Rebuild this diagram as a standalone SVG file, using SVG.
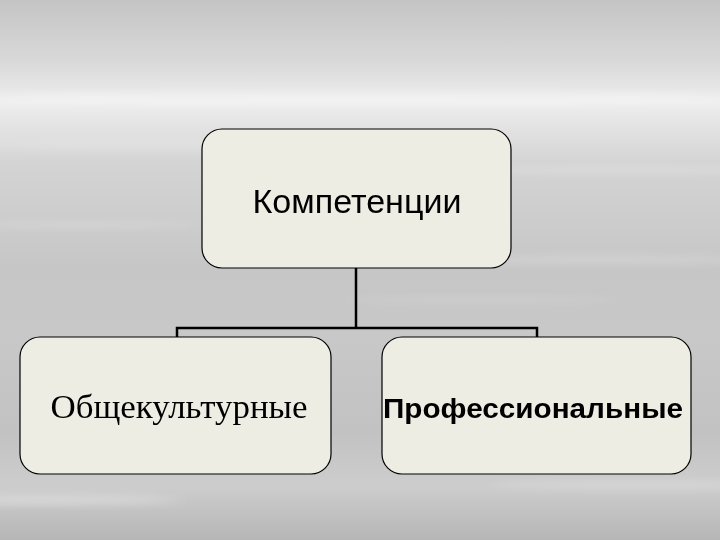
<svg xmlns="http://www.w3.org/2000/svg" width="720" height="540" viewBox="0 0 720 540">
<defs>
<linearGradient id="bg" x1="0" y1="0" x2="0" y2="1">
<stop offset="0" stop-color="#c4c4c4"/>
<stop offset="0.12" stop-color="#dadada"/>
<stop offset="0.19" stop-color="#eeeeee"/>
<stop offset="0.3" stop-color="#d4d4d4"/>
<stop offset="0.5" stop-color="#c6c6c6"/>
<stop offset="0.62" stop-color="#c8c8c8"/>
<stop offset="0.8" stop-color="#c2c2c2"/>
<stop offset="0.9" stop-color="#cdcdcd"/>
<stop offset="1" stop-color="#b6b6b6"/>
</linearGradient>
<filter id="blur" x="-20%" y="-300%" width="140%" height="700%"><feGaussianBlur stdDeviation="10 4"/></filter>
<style>
.box{fill:#edede4;stroke:#000;stroke-width:1.2}
.conn{fill:none;stroke:#000;stroke-width:2.5}
.sans{font-family:"Liberation Sans",Arial,sans-serif;fill:#000}
.serif{font-family:"Liberation Serif","Times New Roman",serif;fill:#000}
</style>
</defs>
<rect width="720" height="540" fill="url(#bg)"/>
<g filter="url(#blur)" fill="#ffffff">
<ellipse cx="360" cy="98" rx="420" ry="6" opacity="0.35"/>
<ellipse cx="150" cy="145" rx="180" ry="4" opacity="0.2"/>
<ellipse cx="620" cy="170" rx="150" ry="4" opacity="0.2"/>
<ellipse cx="80" cy="225" rx="120" ry="3" opacity="0.2"/>
<ellipse cx="600" cy="260" rx="160" ry="4" opacity="0.2"/>
<ellipse cx="480" cy="300" rx="140" ry="3" opacity="0.15"/>
<ellipse cx="40" cy="500" rx="140" ry="5" opacity="0.3"/>
<ellipse cx="640" cy="485" rx="150" ry="4" opacity="0.2"/>
</g>
<g id="connectors">
<path class="conn" d="M356 268 V328 M177 337 V328 H537 V337"/>
</g>
<g id="node-top">
<rect class="box" x="202" y="129" width="309" height="139" rx="20"/>
<text class="sans" x="357" y="213" font-size="33" text-anchor="middle" textLength="209" lengthAdjust="spacingAndGlyphs">Компетенции</text>
</g>
<g id="node-left">
<rect class="box" x="20" y="337" width="311" height="137" rx="20"/>
<text class="serif" x="179" y="418" font-size="33" text-anchor="middle" textLength="257" lengthAdjust="spacingAndGlyphs">Общекультурные</text>
</g>
<g id="node-right">
<rect class="box" x="382" y="337" width="309" height="137" rx="20"/>
<text class="sans" x="533" y="418" font-size="28" font-weight="bold" text-anchor="middle" textLength="300" lengthAdjust="spacingAndGlyphs">Профессиональные</text>
</g>
</svg>
